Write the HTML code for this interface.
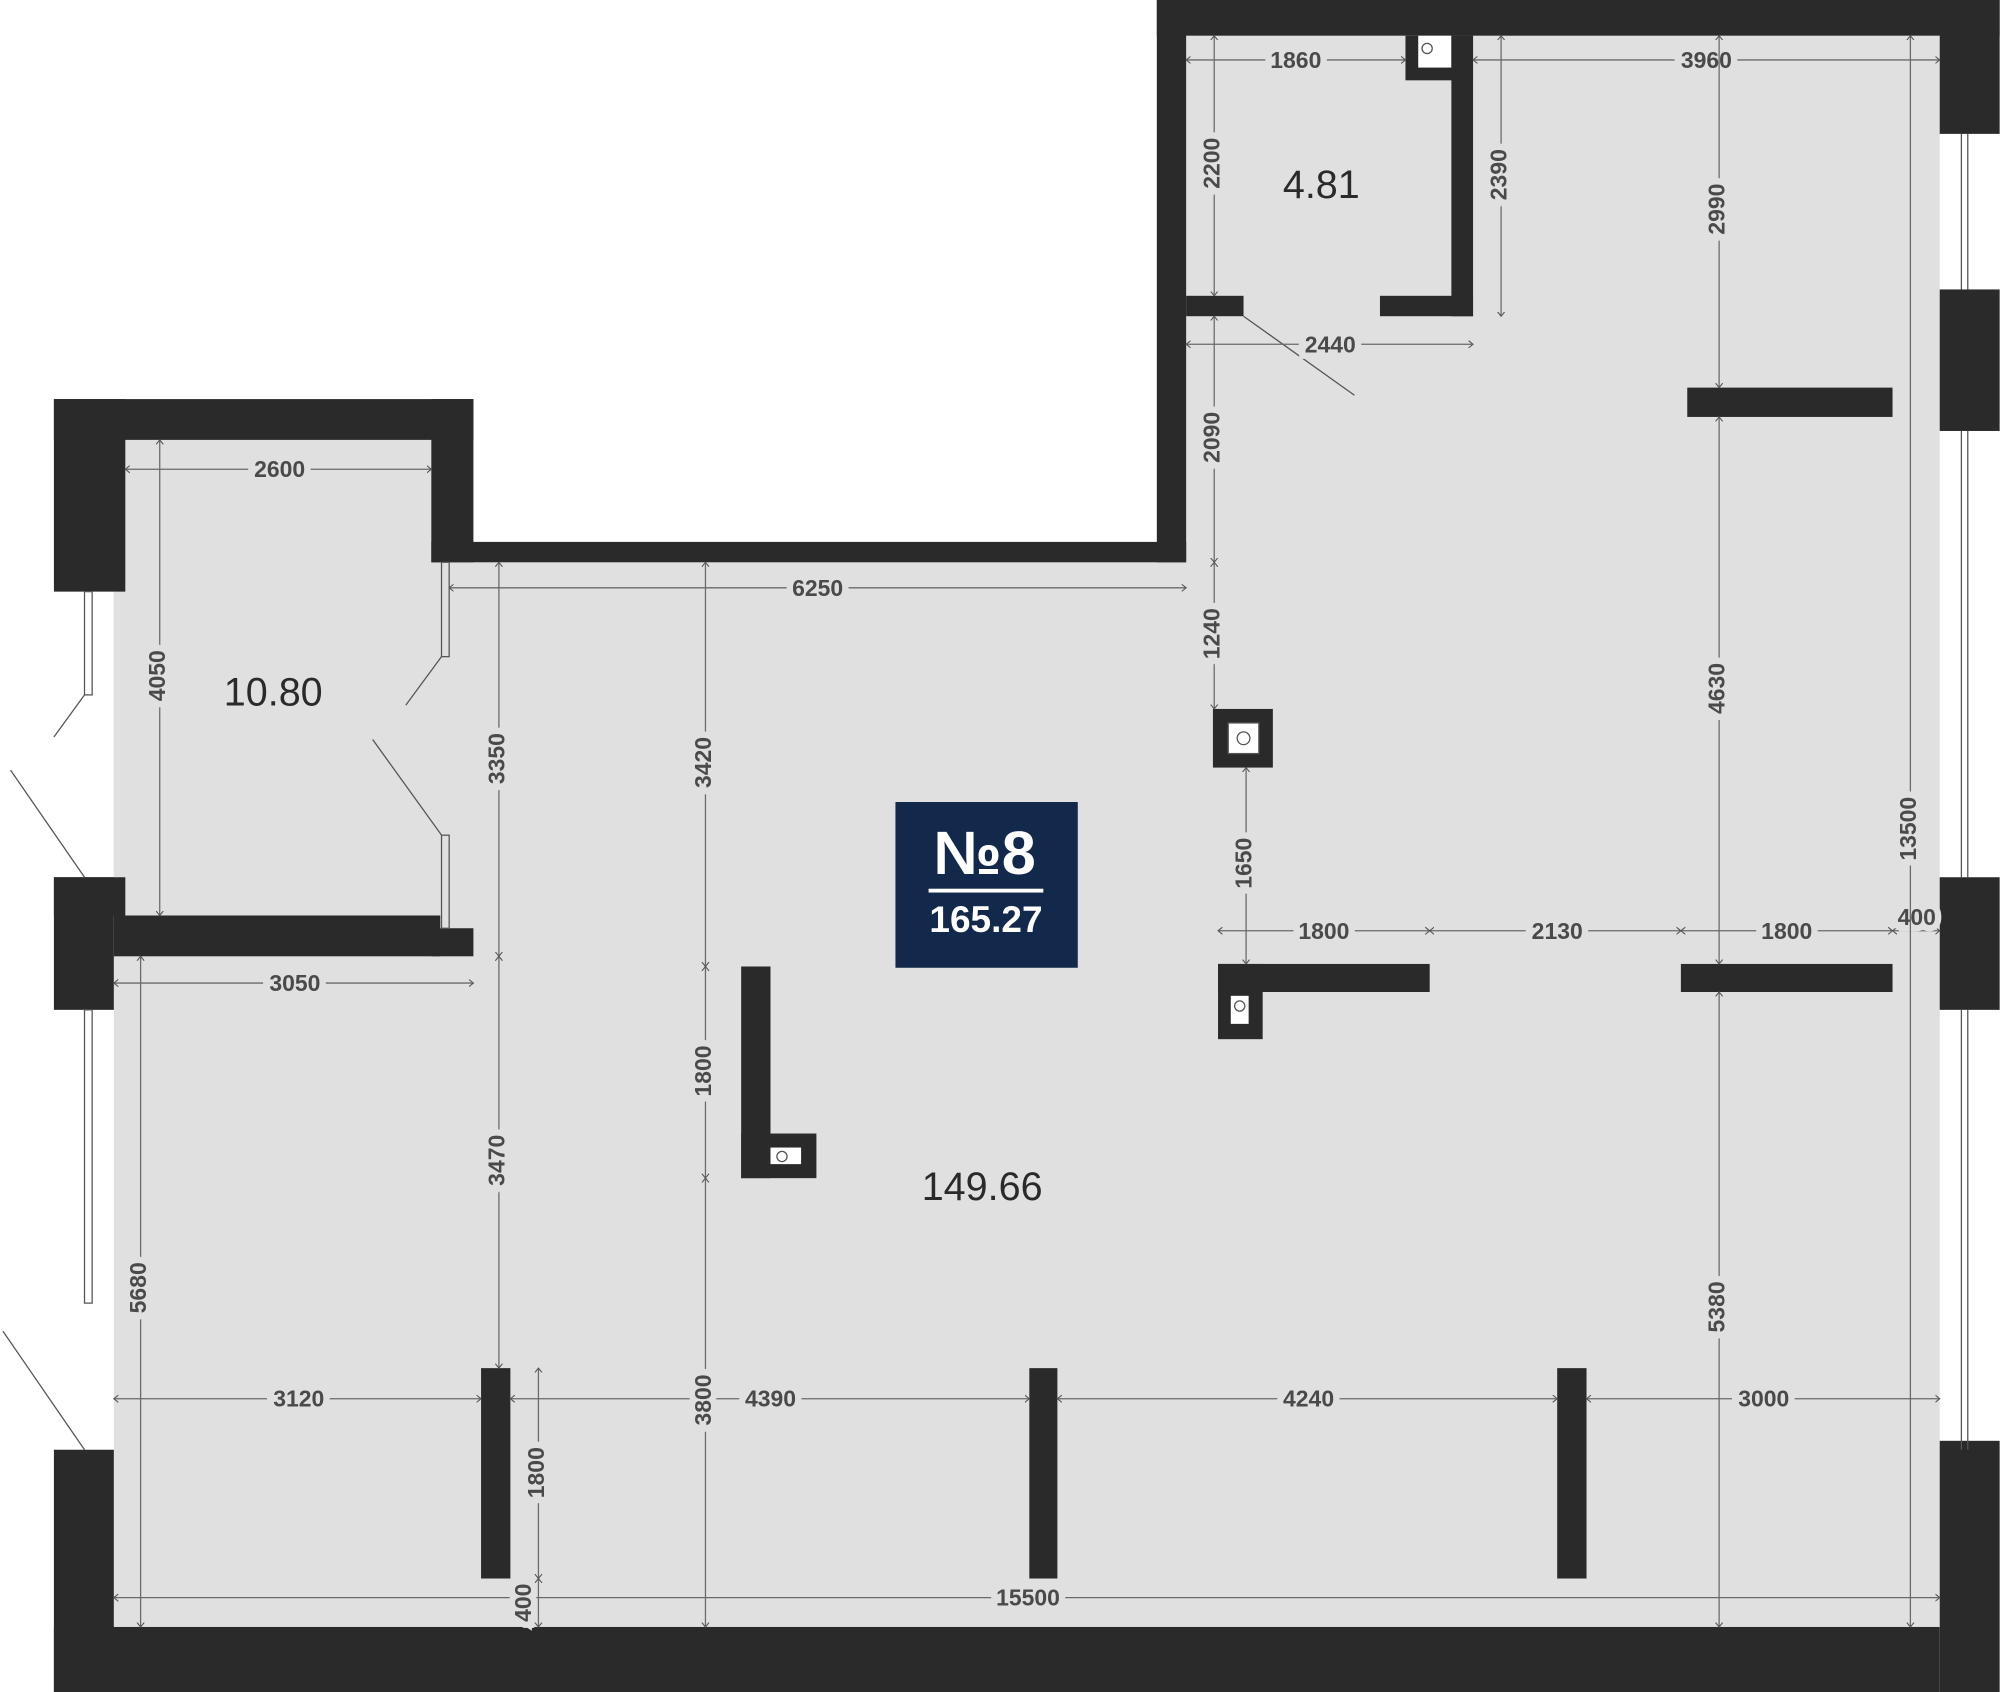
<!DOCTYPE html>
<html><head><meta charset="utf-8"><style>
html,body{margin:0;padding:0;background:#fff;}
svg{display:block;}
.d{stroke:#6a6a6a;stroke-width:1;fill:none;marker-start:url(#a);marker-end:url(#a);}
.t{font-family:"Liberation Sans",sans-serif;font-size:18px;fill:#4a4a4a;font-weight:bold;paint-order:stroke;stroke:#e0e0e0;stroke-width:10px;text-anchor:middle;dominant-baseline:central;}
.w{fill:#2a2a2a;}
.big{font-family:"Liberation Sans",sans-serif;font-size:31px;fill:#2a2a2a;text-anchor:middle;dominant-baseline:central;}
</style></head><body>
<svg width="2000" height="1692" viewBox="0 0 1568 1327" xmlns="http://www.w3.org/2000/svg">
<defs>
<marker id="a" viewBox="0 0 10 10" refX="5" refY="5" markerWidth="7" markerHeight="7" orient="auto-start-reverse" markerUnits="userSpaceOnUse">
<path d="M0,1 L5,5 L0,9" stroke="#555" fill="none" stroke-width="1.2"/>
</marker>
</defs>
<rect width="1568" height="1327" fill="#fff"/>
<!-- floor -->
<path d="M89,441 H930 V28 H1521 V1276 H89 Z" fill="#e0e0e0"/>
<rect x="89" y="345" width="260" height="380" fill="#e0e0e0"/>
<!-- outer walls -->
<rect class="w" x="907" y="0" width="661" height="28"/>
<rect class="w" x="907" y="0" width="23" height="441"/>
<rect class="w" x="338" y="425" width="592" height="16"/>
<rect class="w" x="338" y="313" width="33" height="128"/>
<rect class="w" x="42" y="313" width="329" height="32"/>
<rect class="w" x="42" y="313" width="56" height="151"/>
<rect class="w" x="42" y="688" width="56" height="30"/>
<rect class="w" x="42" y="688" width="47" height="104"/>
<rect class="w" x="42" y="1137" width="47" height="190"/>
<rect class="w" x="42" y="1276" width="1479" height="51"/>
<rect class="w" x="89" y="718" width="256" height="32"/>
<rect class="w" x="338" y="728" width="33" height="22"/>
<!-- right wall -->
<rect class="w" x="1521" y="0" width="47" height="105"/>
<rect class="w" x="1521" y="227" width="47" height="111"/>
<rect class="w" x="1521" y="688" width="47" height="104"/>
<rect class="w" x="1521" y="1130" width="47" height="197"/>
<g stroke="#555" stroke-width="1" fill="none">
<line x1="1538" y1="105" x2="1538" y2="227"/><line x1="1543" y1="105" x2="1543" y2="227"/>
<line x1="1538" y1="338" x2="1538" y2="688"/><line x1="1543" y1="338" x2="1543" y2="688"/>
<line x1="1538" y1="792" x2="1538" y2="1137"/><line x1="1543" y1="792" x2="1543" y2="1137"/>
<rect x="66" y="464" width="6" height="81"/>
<rect x="66" y="792" width="6" height="230"/>
<rect x="346" y="441" width="6" height="74"/>
<rect x="346" y="655" width="6" height="73"/>
<line x1="318" y1="553" x2="346" y2="515"/>
<line x1="292" y1="580" x2="346" y2="655"/>
<line x1="42" y1="578" x2="66" y2="545"/>
<line x1="8" y1="604" x2="66" y2="688"/>
<line x1="2" y1="1044" x2="66" y2="1137"/>
<line x1="975" y1="248" x2="1062" y2="310"/>
</g>
<!-- small room -->
<rect class="w" x="1102" y="28" width="53" height="35"/>
<rect x="1112" y="28" width="26" height="25" fill="#fff"/>
<circle cx="1119" cy="38" r="4" fill="none" stroke="#555"/>
<rect class="w" x="1138" y="28" width="17" height="220"/>
<rect class="w" x="1082" y="232" width="73" height="16"/>
<rect class="w" x="930" y="232" width="45" height="16"/>
<!-- partitions -->
<rect class="w" x="1323" y="304" width="161" height="23"/>
<rect class="w" x="951" y="556" width="47" height="46"/>
<rect x="963" y="567" width="24" height="24" fill="#fff" stroke="#555"/>
<circle cx="975" cy="579" r="5" fill="none" stroke="#555"/>
<rect class="w" x="955" y="756" width="166" height="22"/>
<rect class="w" x="955" y="756" width="35" height="59"/>
<rect x="965" y="781" width="14" height="22" fill="#fff"/>
<circle cx="972" cy="789" r="4" fill="none" stroke="#555"/>
<rect class="w" x="1318" y="756" width="166" height="22"/>
<rect class="w" x="581" y="758" width="23" height="166"/>
<rect class="w" x="581" y="889" width="59" height="35"/>
<rect x="604" y="900" width="24" height="13" fill="#fff"/>
<circle cx="613" cy="907" r="4" fill="none" stroke="#555"/>
<rect class="w" x="377" y="1073" width="23" height="165"/>
<rect class="w" x="807" y="1073" width="22" height="165"/>
<rect class="w" x="1221" y="1073" width="23" height="165"/>
<!-- horizontal dims -->
<line class="d" x1="930" y1="47" x2="1102" y2="47"/><text class="t" x="1016" y="47">1860</text>
<line class="d" x1="1155" y1="47" x2="1521" y2="47"/><text class="t" x="1338" y="47">3960</text>
<line class="d" x1="930" y1="270" x2="1155" y2="270"/><text class="t" x="1043" y="270">2440</text>
<line class="d" x1="98" y1="368" x2="338" y2="368"/><text class="t" x="219" y="368">2600</text>
<line class="d" x1="352" y1="461" x2="930" y2="461"/><text class="t" x="641" y="461">6250</text>
<line class="d" x1="89" y1="771" x2="371" y2="771"/><text class="t" x="231" y="771">3050</text>
<line class="d" x1="955" y1="730" x2="1121" y2="730"/><text class="t" x="1038" y="730">1800</text>
<line class="d" x1="1121" y1="730" x2="1318" y2="730"/><text class="t" x="1221" y="730">2130</text>
<line class="d" x1="1318" y1="730" x2="1484" y2="730"/><text class="t" x="1401" y="730">1800</text>
<line class="d" x1="1484" y1="730" x2="1521" y2="730"/><text class="t" x="1503" y="719">400</text>
<line class="d" x1="89" y1="1097" x2="377" y2="1097"/><text class="t" x="234" y="1097">3120</text>
<line class="d" x1="400" y1="1097" x2="807" y2="1097"/><text class="t" x="604" y="1097">4390</text>
<line class="d" x1="829" y1="1097" x2="1221" y2="1097"/><text class="t" x="1026" y="1097">4240</text>
<line class="d" x1="1244" y1="1097" x2="1521" y2="1097"/><text class="t" x="1383" y="1097">3000</text>
<line class="d" x1="89" y1="1253" x2="1521" y2="1253"/><text class="t" x="806" y="1253">15500</text>
<!-- vertical dims -->
<g>
<line class="d" x1="952" y1="28" x2="952" y2="232"/><text class="t" transform="translate(950,128) rotate(-90)">2200</text>
<line class="d" x1="1177" y1="28" x2="1177" y2="248"/><text class="t" transform="translate(1175,137) rotate(-90)">2390</text>
<line class="d" x1="1348" y1="28" x2="1348" y2="304"/><text class="t" transform="translate(1346,164) rotate(-90)">2990</text>
<line class="d" x1="952" y1="248" x2="952" y2="441"/><text class="t" transform="translate(950,343) rotate(-90)">2090</text>
<line class="d" x1="952" y1="441" x2="952" y2="556"/><text class="t" transform="translate(950,497) rotate(-90)">1240</text>
<line class="d" x1="977" y1="602" x2="977" y2="756"/><text class="t" transform="translate(975,677) rotate(-90)">1650</text>
<line class="d" x1="1348" y1="327" x2="1348" y2="756"/><text class="t" transform="translate(1346,540) rotate(-90)">4630</text>
<line class="d" x1="1498" y1="28" x2="1498" y2="1276"/><text class="t" transform="translate(1496,650) rotate(-90)">13500</text>
<line class="d" x1="1348" y1="778" x2="1348" y2="1276"/><text class="t" transform="translate(1346,1025) rotate(-90)">5380</text>
<line class="d" x1="125" y1="345" x2="125" y2="718"/><text class="t" transform="translate(123,530) rotate(-90)">4050</text>
<line class="d" x1="391" y1="441" x2="391" y2="750"/><text class="t" transform="translate(389,595) rotate(-90)">3350</text>
<line class="d" x1="391" y1="750" x2="391" y2="1073"/><text class="t" transform="translate(389,910) rotate(-90)">3470</text>
<line class="d" x1="553" y1="441" x2="553" y2="758"/><text class="t" transform="translate(551,598) rotate(-90)">3420</text>
<line class="d" x1="553" y1="758" x2="553" y2="924"/><text class="t" transform="translate(551,840) rotate(-90)">1800</text>
<line class="d" x1="553" y1="924" x2="553" y2="1276"/><text class="t" transform="translate(551,1098) rotate(-90)">3800</text>
<line class="d" x1="110" y1="750" x2="110" y2="1276"/><text class="t" transform="translate(108,1010) rotate(-90)">5680</text>
<line class="d" x1="422" y1="1073" x2="422" y2="1238"/><text class="t" transform="translate(420,1155) rotate(-90)">1800</text>
<line class="d" x1="422" y1="1238" x2="422" y2="1276"/><text class="t" transform="translate(410,1257) rotate(-90)">400</text>
</g>
<!-- room areas -->
<text class="big" x="214" y="543">10.80</text>
<text class="big" x="1036" y="145">4.81</text>
<text class="big" x="770" y="931">149.66</text>
<!-- badge -->
<rect x="702" y="629" width="143" height="130" fill="#13294b"/>
<text x="772" y="669" fill="#fff" font-family="Liberation Sans,sans-serif" font-weight="bold" font-size="48" text-anchor="middle" dominant-baseline="central">№8</text>
<rect x="728" y="697" width="90" height="3" fill="#fff"/>
<text x="773" y="721" fill="#fff" font-family="Liberation Sans,sans-serif" font-weight="bold" font-size="29" text-anchor="middle" dominant-baseline="central">165.27</text>
</svg>
</body></html>
